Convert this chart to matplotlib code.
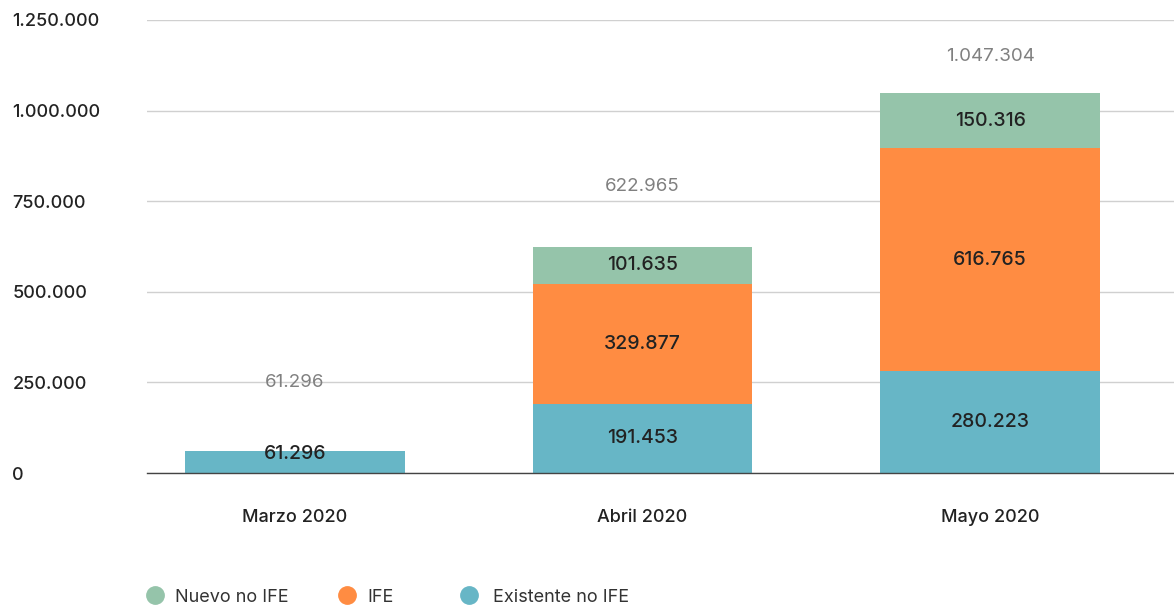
import matplotlib.pyplot as plt
from matplotlib.lines import Line2D
import numpy as np

plt.rcParams['font.family'] = ['Inter', 'DejaVu Sans']

meses = ['Marzo 2020', 'Abril 2020', 'Mayo 2020']
existente_no_ife = [61296, 191453, 280223]
ife = [0, 329877, 616765]
nuevo_no_ife = [0, 101635, 150316]
totales = [61296, 622965, 1047304]

series = ['Existente no IFE', 'IFE', 'Nuevo no IFE']
colores = {'Existente no IFE': '#67b6c6', 'IFE': '#ff8c42', 'Nuevo no IFE': '#95c4aa'}

def fmt(v):
    return f'{v:,.0f}'.replace(',', '.')

fig = plt.figure(figsize=(11.74, 6.10), dpi=100)
ax = fig.add_axes([147/1174, 1 - 473/610, 1 - 147/1174, (473 - 20)/610])

x = np.arange(len(meses))
ancho = 0.633
px_por_unidad = 453 / 1250000
base = np.zeros(len(meses))
for nombre, valores in zip(series, [existente_no_ife, ife, nuevo_no_ife]):
    valores = np.array(valores)
    ax.bar(x, valores, ancho, bottom=base, color=colores[nombre], zorder=3)
    for i, v in enumerate(valores):
        if v <= 0:
            continue
        alto_px = v * px_por_unidad
        if alto_px < 40:
            # segmento pequeño: etiqueta algo por encima del centro
            ax.annotate(fmt(v), (x[i], base[i]), xytext=(0, 19 * 0.72), textcoords='offset points',
                        ha='center', va='center', fontsize=14, fontweight='medium',
                        color='#222222', zorder=4)
        else:
            ax.text(x[i], base[i] + v / 2, fmt(v), ha='center', va='center',
                    fontsize=14, fontweight='medium', color='#222222', zorder=4)
    base += valores

# etiquetas de totales (gris)
desplaz = [68, 61, 37]  # px sobre la barra
for i, t in enumerate(totales):
    ax.annotate(fmt(t), (x[i], t), xytext=(0, desplaz[i] * 0.72), textcoords='offset points',
                ha='center', va='center', fontsize=13.5, color='#808080', zorder=4)

ax.set_ylim(0, 1250000)
ax.set_xlim(-0.426, 2.5295)
ax.set_yticks([0, 250000, 500000, 750000, 1000000, 1250000])
ax.set_yticklabels([fmt(v) for v in ax.get_yticks()])
ax.yaxis.grid(True, color='#d0d0d0', linewidth=1, zorder=0)
ax.tick_params(axis='y', length=0, pad=97, labelsize=13, labelcolor='#222222')
for lab in ax.get_yticklabels():
    lab.set_horizontalalignment('left')
    lab.set_fontweight('medium')
ax.set_xticks(x)
ax.set_xticklabels(meses, fontsize=13, fontweight='medium', color='#222222')
ax.tick_params(axis='x', length=0, pad=26)

for s in ['top', 'right', 'left']:
    ax.spines[s].set_visible(False)
ax.spines['bottom'].set_color('#444444')
ax.spines['bottom'].set_linewidth(1)
ax.spines['bottom'].set_zorder(5)

orden = ['Nuevo no IFE', 'IFE', 'Existente no IFE']
leyenda_x = [146, 338, 460]
for nombre, lx in zip(orden, leyenda_x):
    h = Line2D([], [], marker='o', linestyle='none', markersize=12.5,
               markerfacecolor=colores[nombre], markeredgecolor=colores[nombre])
    fig.legend([h], [nombre], loc='center left', bbox_to_anchor=(lx/1174, 1 - 597/610),
               frameon=False, fontsize=13, handlelength=1,
               handletextpad=0.6 if nombre != 'Existente no IFE' else 0.85,
               borderpad=0, borderaxespad=0, labelcolor='#333333')

fig.savefig('out.png', dpi=100)
